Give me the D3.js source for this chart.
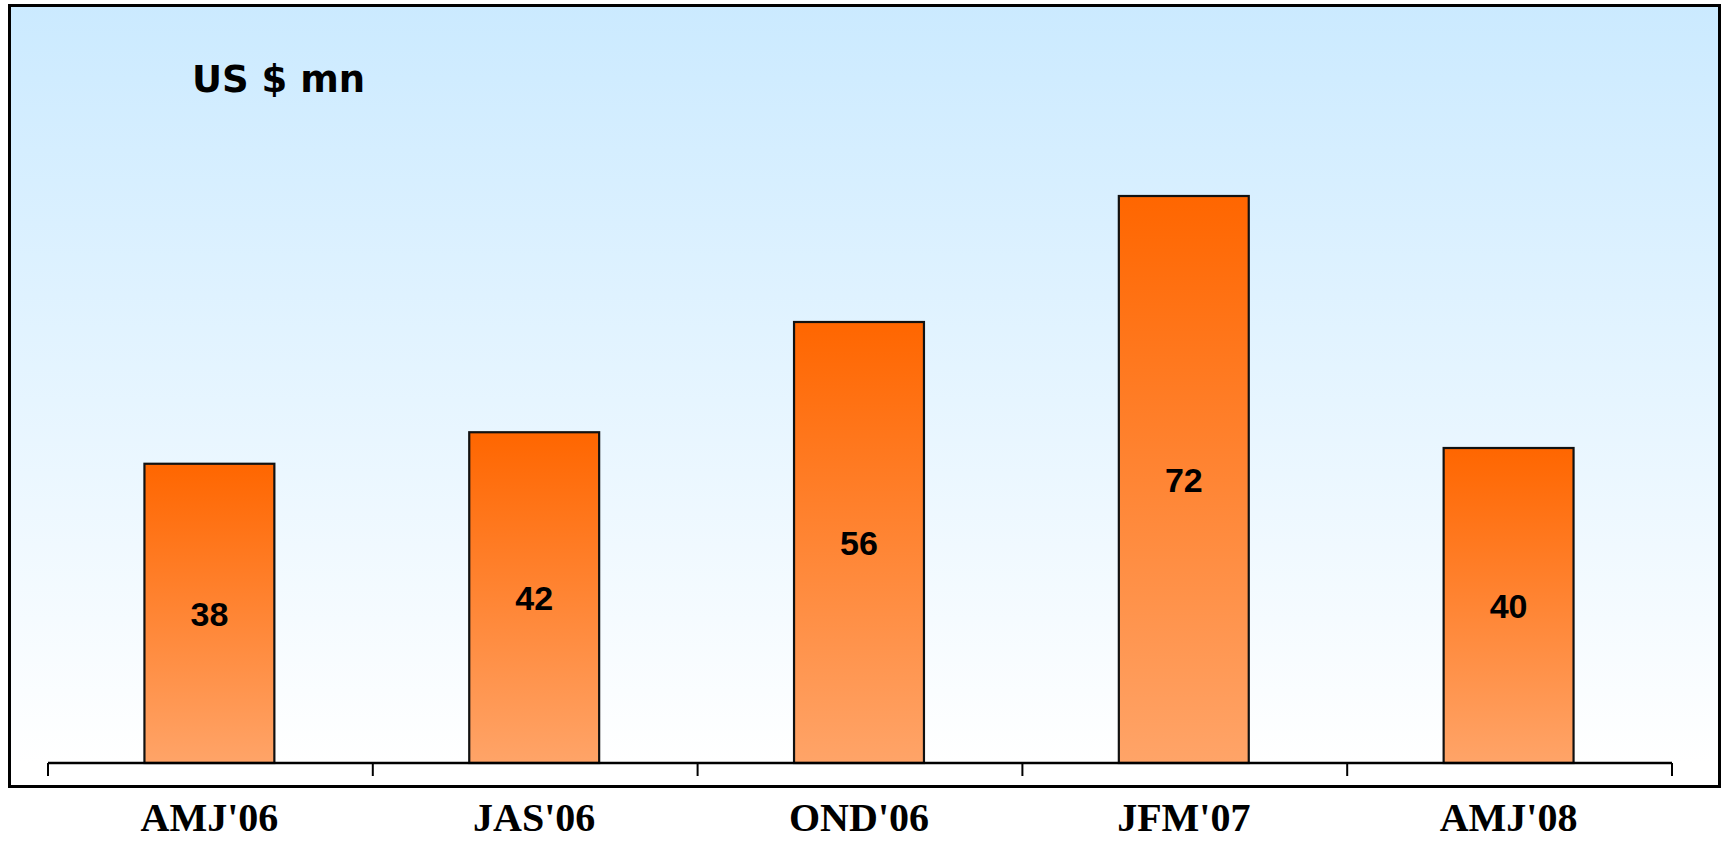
<!DOCTYPE html>
<html><head><meta charset="utf-8">
<script src="https://cdn.jsdelivr.net/npm/d3@7"></script>
<style>html,body{margin:0;padding:0;background:#fff;}svg{display:block;}</style>
</head><body>
<svg id="chart" width="1725" height="841"></svg>
<script>
const categories = ["AMJ'06", "JAS'06", "OND'06", "JFM'07", "AMJ'08"];
const values = [38, 42, 56, 72, 40];
const unitLabel = "US $ mn";

const svg = d3.select("#chart");
const defs = svg.append("defs");
const bg = defs.append("linearGradient").attr("id","bg").attr("x1",0).attr("y1",0).attr("x2",0).attr("y2",1);
bg.append("stop").attr("offset","0%").attr("stop-color","#cbeaff");
bg.append("stop").attr("offset","97%").attr("stop-color","#ffffff");
const bar = defs.append("linearGradient").attr("id","barg").attr("x1",0).attr("y1",0).attr("x2",0).attr("y2",1);
bar.append("stop").attr("offset","0%").attr("stop-color","#ff6600");
bar.append("stop").attr("offset","100%").attr("stop-color","#ffa468");

svg.append("rect").attr("x",9.5).attr("y",5.5).attr("width",1710).attr("height",781)
  .attr("fill","url(#bg)").attr("stroke","none");

const x = d3.scaleBand().domain(categories).range([48,1672]).paddingInner(0.6).paddingOuter(0.3);
const y = d3.scaleLinear().domain([0,80]).range([763,133]);

svg.append("g").selectAll("rect").data(values).join("rect")
  .attr("x",(d,i)=>x(categories[i])-1)
  .attr("y",d=>y(d))
  .attr("width",x.bandwidth())
  .attr("height",d=>y(0)-y(d))
  .attr("fill","url(#barg)")
  .attr("stroke","#111").attr("stroke-width",2.2);

svg.append("g").selectAll("text").data(values).join("text")
  .attr("x",(d,i)=>x(categories[i])+x.bandwidth()/2-1)
  .attr("y",d=>(y(d)+y(0))/2)
  .attr("dy","0.36em")
  .attr("text-anchor","middle")
  .attr("font-family","'Liberation Sans', Arial, sans-serif")
  .attr("font-weight","bold").attr("font-size",34).attr("fill","#000")
  .text(d=>d);

const ax = svg.append("g");
ax.append("line").attr("x1",48).attr("x2",1672).attr("y1",763).attr("y2",763)
  .attr("stroke","#000").attr("stroke-width",2.5);
const tickPos = d3.range(categories.length+1).map(i=>x.range()[0]+i*(x.range()[1]-x.range()[0])/categories.length);
ax.selectAll("line.t").data(tickPos).join("line").attr("class","t")
  .attr("x1",d=>d).attr("x2",d=>d).attr("y1",763).attr("y2",776)
  .attr("stroke","#000").attr("stroke-width",2);

svg.append("rect").attr("x",9.5).attr("y",5.5).attr("width",1710).attr("height",781)
  .attr("fill","none").attr("stroke","#000").attr("stroke-width",3);

svg.append("g").selectAll("text").data(categories).join("text")
  .attr("x",d=>x(d)+x.bandwidth()/2-1)
  .attr("y",831)
  .attr("text-anchor","middle")
  .attr("font-family","'Liberation Serif', 'Times New Roman', serif")
  .attr("font-weight","bold").attr("font-size",40).attr("fill","#000")
  .text(d=>d);

svg.append("text").attr("x",192).attr("y",92)
  .attr("font-family","'DejaVu Sans', Verdana, sans-serif")
  .attr("font-weight","bold").attr("font-size",37).attr("fill","#000")
  .text(unitLabel);
</script>
</body></html>
